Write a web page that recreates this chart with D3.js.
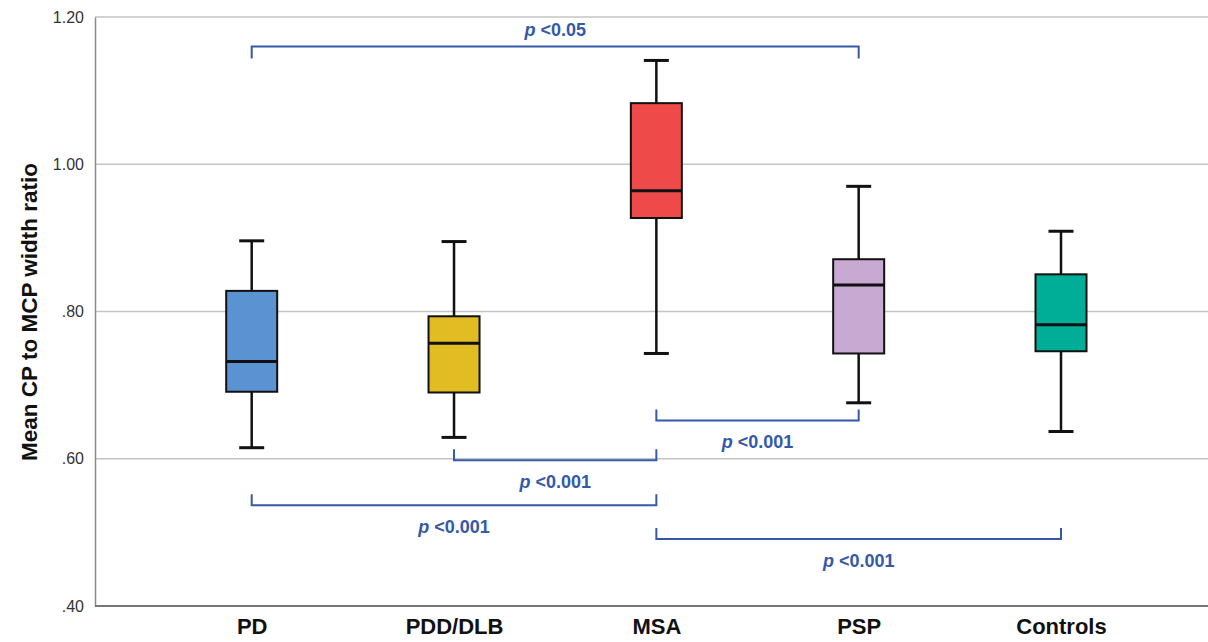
<!DOCTYPE html>
<html>
<head>
<meta charset="utf-8">
<script src="https://cdn.jsdelivr.net/npm/d3@7"></script>
<style>
  html, body { margin: 0; padding: 0; background: #fff; }
  svg { display: block; font-family: "Liberation Sans", Arial, sans-serif; }
</style>
</head>
<body>
<svg id="chart" width="1208" height="642"></svg>
<script>
// ---- data ----
const categories = ["PD", "PDD/DLB", "MSA", "PSP", "Controls"];
const whiskerLow  = [0.615, 0.629, 0.743, 0.676, 0.637];
const q1          = [0.691, 0.690, 0.927, 0.743, 0.746];
const medians     = [0.732, 0.757, 0.964, 0.836, 0.782];
const q3          = [0.828, 0.7935, 1.083, 0.871, 0.8505];
const whiskerHigh = [0.896, 0.895, 1.141, 0.970, 0.909];
const boxColors   = ["#5b93d2", "#e1bc23", "#ee4a4a", "#c8a9d2", "#00ad97"];
const yTicks      = [0.40, 0.60, 0.80, 1.00, 1.20];
const yTickLabels = [".40", ".60", ".80", "1.00", "1.20"];

// significance brackets: from, to, level (data units), direction, label
const bracketFrom  = ["PD", "MSA", "PDD/DLB", "PD", "MSA"];
const bracketTo    = ["PSP", "PSP", "MSA", "MSA", "Controls"];
const bracketLevel = [1.160, 0.652, 0.598, 0.537, 0.491];
const bracketDir   = ["down", "up", "up", "up", "up"];
const bracketLabel = ["<0.05", "<0.001", "<0.001", "<0.001", "<0.001"];
const labelPos     = ["above", "below", "below", "below", "below"];

// ---- layout ----
const svg = d3.select("#chart");
const plotLeft = 95, plotRight = 1208, plotTop = 17, plotBottom = 606;

const y = d3.scaleLinear().domain([0.40, 1.20]).range([plotBottom, plotTop]);
const x = d3.scalePoint().domain(categories).range([251.7, 1061]);

// gridlines
svg.append("g").selectAll("line.grid")
  .data(yTicks.filter(v => v > 0.4))
  .join("line")
  .attr("x1", plotLeft).attr("x2", plotRight)
  .attr("y1", d => y(d)).attr("y2", d => y(d))
  .attr("stroke", "#c4c4c4").attr("stroke-width", 1.5);

// y axis
const yAxis = d3.axisLeft(y).tickValues(yTicks)
  .tickFormat((d, i) => yTickLabels[i]).tickSize(0).tickPadding(11);
const gy = svg.append("g").attr("transform", `translate(${plotLeft},0)`).call(yAxis);
gy.select(".domain").attr("stroke", "#8a8a8a").attr("stroke-width", 1.5);
gy.selectAll("text").attr("font-size", 16).attr("fill", "#333")
  .attr("font-family", "Liberation Sans, Arial, sans-serif");

// x axis
const xAxis = d3.axisBottom(x).tickSize(0).tickPadding(12);
const gx = svg.append("g").attr("transform", `translate(0,${plotBottom})`).call(xAxis);
gx.select(".domain").attr("d", `M${plotLeft},0H${plotRight}`)
  .attr("stroke", "#777").attr("stroke-width", 2);
gx.selectAll("text").attr("font-size", 22).attr("font-weight", "bold").attr("fill", "#111")
  .attr("font-family", "Liberation Sans, Arial, sans-serif");

// y title
svg.append("text")
  .attr("transform", `translate(37,312) rotate(-90)`)
  .attr("text-anchor", "middle")
  .attr("font-size", 22.5).attr("font-weight", "bold").attr("fill", "#111")
  .text("Mean CP to MCP width ratio");

// ---- boxes ----
const boxW = 51, capW = 25;
const rows = categories.map((c, i) => ({
  c, lo: whiskerLow[i], q1: q1[i], med: medians[i], q3: q3[i], hi: whiskerHigh[i], col: boxColors[i]
}));
const g = svg.append("g").selectAll("g.box").data(rows).join("g");

// whiskers
g.append("line").attr("x1", d => x(d.c)).attr("x2", d => x(d.c))
  .attr("y1", d => y(d.hi)).attr("y2", d => y(d.q3))
  .attr("stroke", "#111").attr("stroke-width", 2.5);
g.append("line").attr("x1", d => x(d.c)).attr("x2", d => x(d.c))
  .attr("y1", d => y(d.q1)).attr("y2", d => y(d.lo))
  .attr("stroke", "#111").attr("stroke-width", 2.5);
// caps
g.append("line").attr("x1", d => x(d.c) - capW / 2).attr("x2", d => x(d.c) + capW / 2)
  .attr("y1", d => y(d.hi)).attr("y2", d => y(d.hi))
  .attr("stroke", "#111").attr("stroke-width", 3);
g.append("line").attr("x1", d => x(d.c) - capW / 2).attr("x2", d => x(d.c) + capW / 2)
  .attr("y1", d => y(d.lo)).attr("y2", d => y(d.lo))
  .attr("stroke", "#111").attr("stroke-width", 3);
// box
g.append("rect").attr("x", d => x(d.c) - boxW / 2).attr("width", boxW)
  .attr("y", d => y(d.q3)).attr("height", d => y(d.q1) - y(d.q3))
  .attr("fill", d => d.col).attr("stroke", "#111").attr("stroke-width", 2);
// median
g.append("line").attr("x1", d => x(d.c) - boxW / 2).attr("x2", d => x(d.c) + boxW / 2)
  .attr("y1", d => y(d.med)).attr("y2", d => y(d.med))
  .attr("stroke", "#111").attr("stroke-width", 3);

// ---- brackets ----
const blue = "#3459a8";
const brackets = bracketFrom.map((f, i) => ({
  x1: x(f), x2: x(bracketTo[i]), yv: y(bracketLevel[i]),
  dir: bracketDir[i], label: bracketLabel[i], pos: labelPos[i]
}));
const bg = svg.append("g").selectAll("g.br").data(brackets).join("g");
bg.append("path")
  .attr("d", d => {
    const t = d.dir === "down" ? 12 : -11;
    return `M${d.x1},${d.yv + t}V${d.yv}H${d.x2}V${d.yv + t}`;
  })
  .attr("fill", "none").attr("stroke", blue).attr("stroke-width", 2);
const lt = bg.append("text")
  .attr("x", d => (d.x1 + d.x2) / 2)
  .attr("y", d => d.pos === "above" ? d.yv - 10 : d.yv + 28)
  .attr("text-anchor", "middle")
  .attr("font-size", 18).attr("font-weight", "bold").attr("fill", blue);
lt.append("tspan").attr("font-style", "italic").text("p");
lt.append("tspan").text(d => " " + d.label);
</script>
</body>
</html>
